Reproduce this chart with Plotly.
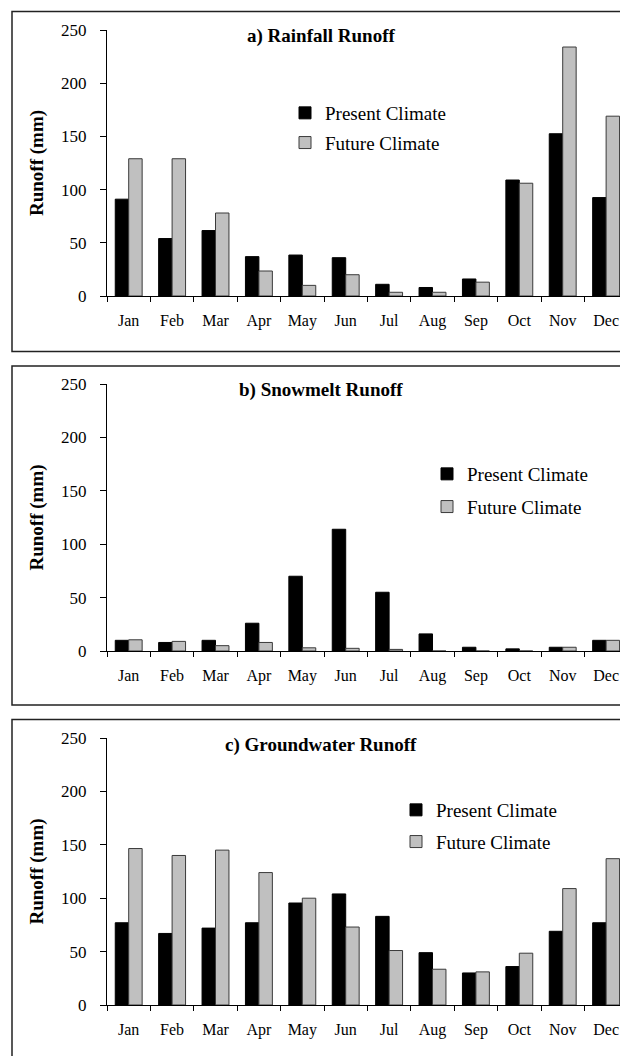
import plotly.graph_objects as go

months = ["Jan", "Feb", "Mar", "Apr", "May", "Jun", "Jul", "Aug", "Sep", "Oct", "Nov", "Dec"]

rain_present = [91, 54, 61.5, 37, 38.5, 36, 11, 8, 16, 109, 152.5, 92.5]
rain_future = [129, 129, 78, 23.5, 10, 20, 3.5, 3.5, 13, 106, 234, 169]

snow_present = [10, 8, 10, 26, 70, 114, 55, 16, 3.5, 2, 3.5, 10]
snow_future = [10.5, 9, 5, 8, 3, 2.5, 1.5, 0, 0, 0, 3.5, 10]

ground_present = [77, 67, 72, 77, 95.5, 104, 83, 49, 30, 36, 69, 77]
ground_future = [146.5, 140, 145, 124, 100, 73, 51, 33.5, 31, 48.5, 109, 137]

panel_titles = ["a) Rainfall Runoff", "b) Snowmelt Runoff", "c) Groundwater Runoff"]
series_names = ["Present Climate", "Future Climate"]
y_title = "Runoff (mm)"

W, H = 620, 1056
FONT = "Liberation Serif, Times New Roman, serif"

panels = [
    (rain_present, rain_future),
    (snow_present, snow_future),
    (ground_present, ground_future),
]

# pixel geometry (top of axis = 250, bottom = 0)
y_px = [(30, 296), (384, 651), (738, 1005)]
border_px = [(11.5, 351.5), (366, 705), (719.5, 1070)]
legend_px = [(285, 94), (427, 455), (396, 791)]
legend_gap = [2, 5, 4]
title_y_px = [36, 390, 745]

def py(p):
    return (H - p) / H

fig = go.Figure()
for i, (pres, fut) in enumerate(panels):
    n = i + 1
    xa = "x" if n == 1 else f"x{n}"
    ya = "y" if n == 1 else f"y{n}"
    lg = "legend" if n == 1 else f"legend{n}"
    fig.add_trace(go.Bar(x=months, y=pres, name=series_names[0], xaxis=xa, yaxis=ya,
                         marker=dict(color="#000000", line=dict(color="#000000", width=1)),
                         legend=lg, legendgroup=f"p{n}", hoverinfo="skip"))
    fig.add_trace(go.Bar(x=months, y=fut, name=series_names[1], xaxis=xa, yaxis=ya,
                         marker=dict(color="#c0c0c0", line=dict(color="#3a3a3a", width=1)),
                         legend=lg, legendgroup=f"f{n}", hoverinfo="skip"))

layout = dict(
    width=W, height=H,
    margin=dict(l=0, r=0, t=0, b=0, autoexpand=False),
    paper_bgcolor="white", plot_bgcolor="white",
    barmode="group", bargap=0.38, bargroupgap=0,
    font=dict(family=FONT, color="#000000"),
    showlegend=True,
)

shapes = []
annotations = []
for i in range(3):
    n = i + 1
    suffix = "" if n == 1 else str(n)
    top, bot = y_px[i]
    layout[f"xaxis{suffix}"] = dict(
        domain=[107 / W, 1], anchor=f"y{suffix}", type="category",
        range=[-0.5, 11.32], tickson="boundaries", ticks="outside", ticklen=5,
        tickcolor="#000000", showline=True, linecolor="#000000", linewidth=1,
        showgrid=False, tickfont=dict(family=FONT, size=16), ticklabelstandoff=10,
        fixedrange=True, automargin=False,
    )
    layout[f"yaxis{suffix}"] = dict(
        domain=[py(bot), py(top)], anchor=f"x{suffix}", range=[0, 250], dtick=50,
        ticks="outside", ticklen=6, tickcolor="#000000", showline=True,
        linecolor="#000000", linewidth=1, showgrid=False, zeroline=False,
        tickfont=dict(family=FONT, size=17), ticklabelstandoff=10,
        title=dict(text=y_title, font=dict(family=FONT, size=19, weight="bold"), standoff=12),
        fixedrange=True, automargin=False,
    )
    lx, ly = legend_px[i]
    layout["legend" if n == 1 else f"legend{n}"] = dict(
        x=lx / W, y=py(ly), xanchor="left", yanchor="top",
        font=dict(family=FONT, size=19), bgcolor="rgba(0,0,0,0)",
        traceorder="grouped", tracegroupgap=legend_gap[i], itemclick=False, itemdoubleclick=False,
    )
    bt, bb = border_px[i]
    shapes.append(dict(type="rect", xref="paper", yref="paper",
                       x0=12 / W, x1=1.05, y0=py(bb), y1=py(bt),
                       line=dict(color="#222222", width=1.5), fillcolor="rgba(0,0,0,0)"))
    annotations.append(dict(text=f"<b>{panel_titles[i]}</b>", xref="paper", yref="paper",
                            x=321 / W, y=py(title_y_px[i]), xanchor="center", yanchor="middle",
                            showarrow=False, font=dict(family=FONT, size=19)))

layout["shapes"] = shapes
layout["annotations"] = annotations
fig.update_layout(**layout)

fig.write_html(
    "out.html",
    config={"displayModeBar": False, "staticPlot": True},
    post_script="document.documentElement.style.margin='0';document.body.style.margin='0';"
                "document.body.style.overflow='hidden';document.documentElement.style.overflow='hidden';",
)
